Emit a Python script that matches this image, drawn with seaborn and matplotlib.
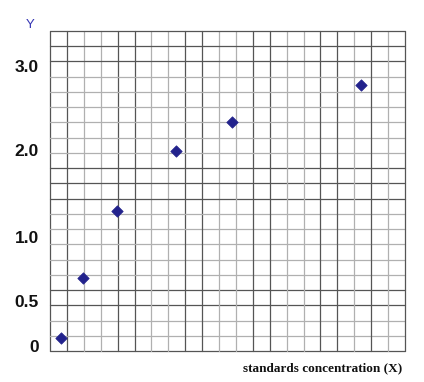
import numpy as np
import pandas as pd
import matplotlib
matplotlib.use("Agg")
import matplotlib.pyplot as plt
import seaborn as sns

# ---- data ----
conc = [0.65, 1.95, 3.95, 7.45, 10.75, 18.38]
response = [0.09, 0.68, 1.30, 1.99, 2.33, 2.77]
ytick_values = [0, 0.5, 1.0, 2.0, 3.0]
ytick_labels = ["0", "0.5", "1.0", "2.0", "3.0"]
x_label = "standards concentration (X)"
y_label = "Y"

# ---- layout: the drawn axis is hand-spaced; map label values to grid squares ----
knots_val = np.array([-1.0, 0.0, 0.5, 1.0, 2.0, 3.0, 4.0])
knots_grid = np.array([0.33 - 5.85, 0.33, 3.25, 7.48, 13.19, 18.70, 18.70 + 5.51])
n_grid = 21

def fwd(v):
    return np.interp(v, knots_val, knots_grid)

def inv(g):
    return np.interp(g, knots_grid, knots_val)

sns.set_theme(style="white")
plt.rcParams["font.family"] = ["Liberation Sans", "DejaVu Sans"]

fig = plt.figure(figsize=(4.24, 3.82), dpi=100)
ax = fig.add_axes([50 / 424, 31 / 382, 355 / 424, 320 / 382])

df = pd.DataFrame({"x": conc, "y": response})
sns.scatterplot(data=df, x="x", y="y", ax=ax, marker="D", s=34,
                color="#22228c", edgecolor="#22228c", linewidth=0.5, zorder=5)

ax.set_yscale("function", functions=(fwd, inv))
ax.set_xlim(0, n_grid)
ax.set_ylim(inv(0), inv(n_grid))

# grid of squares
dark_v = {0, 1, 4, 5, 8, 9, 12, 13, 16, 17, 19, 21}
dark_h = {0, 3, 4, 10, 11, 12, 19, 20, 21}
for i in range(n_grid + 1):
    f = i / n_grid
    cv = "#555555" if i in dark_v else "#b0b0b0"
    ch = "#555555" if i in dark_h else "#b0b0b0"
    ax.plot([f, f], [0, 1], transform=ax.transAxes, color=cv, lw=0.9, zorder=1,
            clip_on=False)
    ax.plot([0, 1], [f, f], transform=ax.transAxes, color=ch, lw=0.9, zorder=1,
            clip_on=False)

for s in ax.spines.values():
    s.set_visible(False)

ax.set_xticks([])
ax.set_yticks(ytick_values)
ax.set_yticklabels(ytick_labels, fontsize=12.5, fontweight="bold", color="#111111")
ax.tick_params(axis="y", length=0, pad=8)
ax.set_xlabel("")
ax.set_ylabel("")

fig.text(30 / 424, 1 - 24.5 / 382, y_label, color="#3636b4", fontsize=9.5,
         ha="center", va="center")
fig.text(402 / 424, 1 - 368 / 382, x_label, family=["Liberation Serif", "DejaVu Serif"],
         fontweight="bold", fontsize=9.5, ha="right", va="center", color="#111111")

fig.savefig("out.png", dpi=100)
